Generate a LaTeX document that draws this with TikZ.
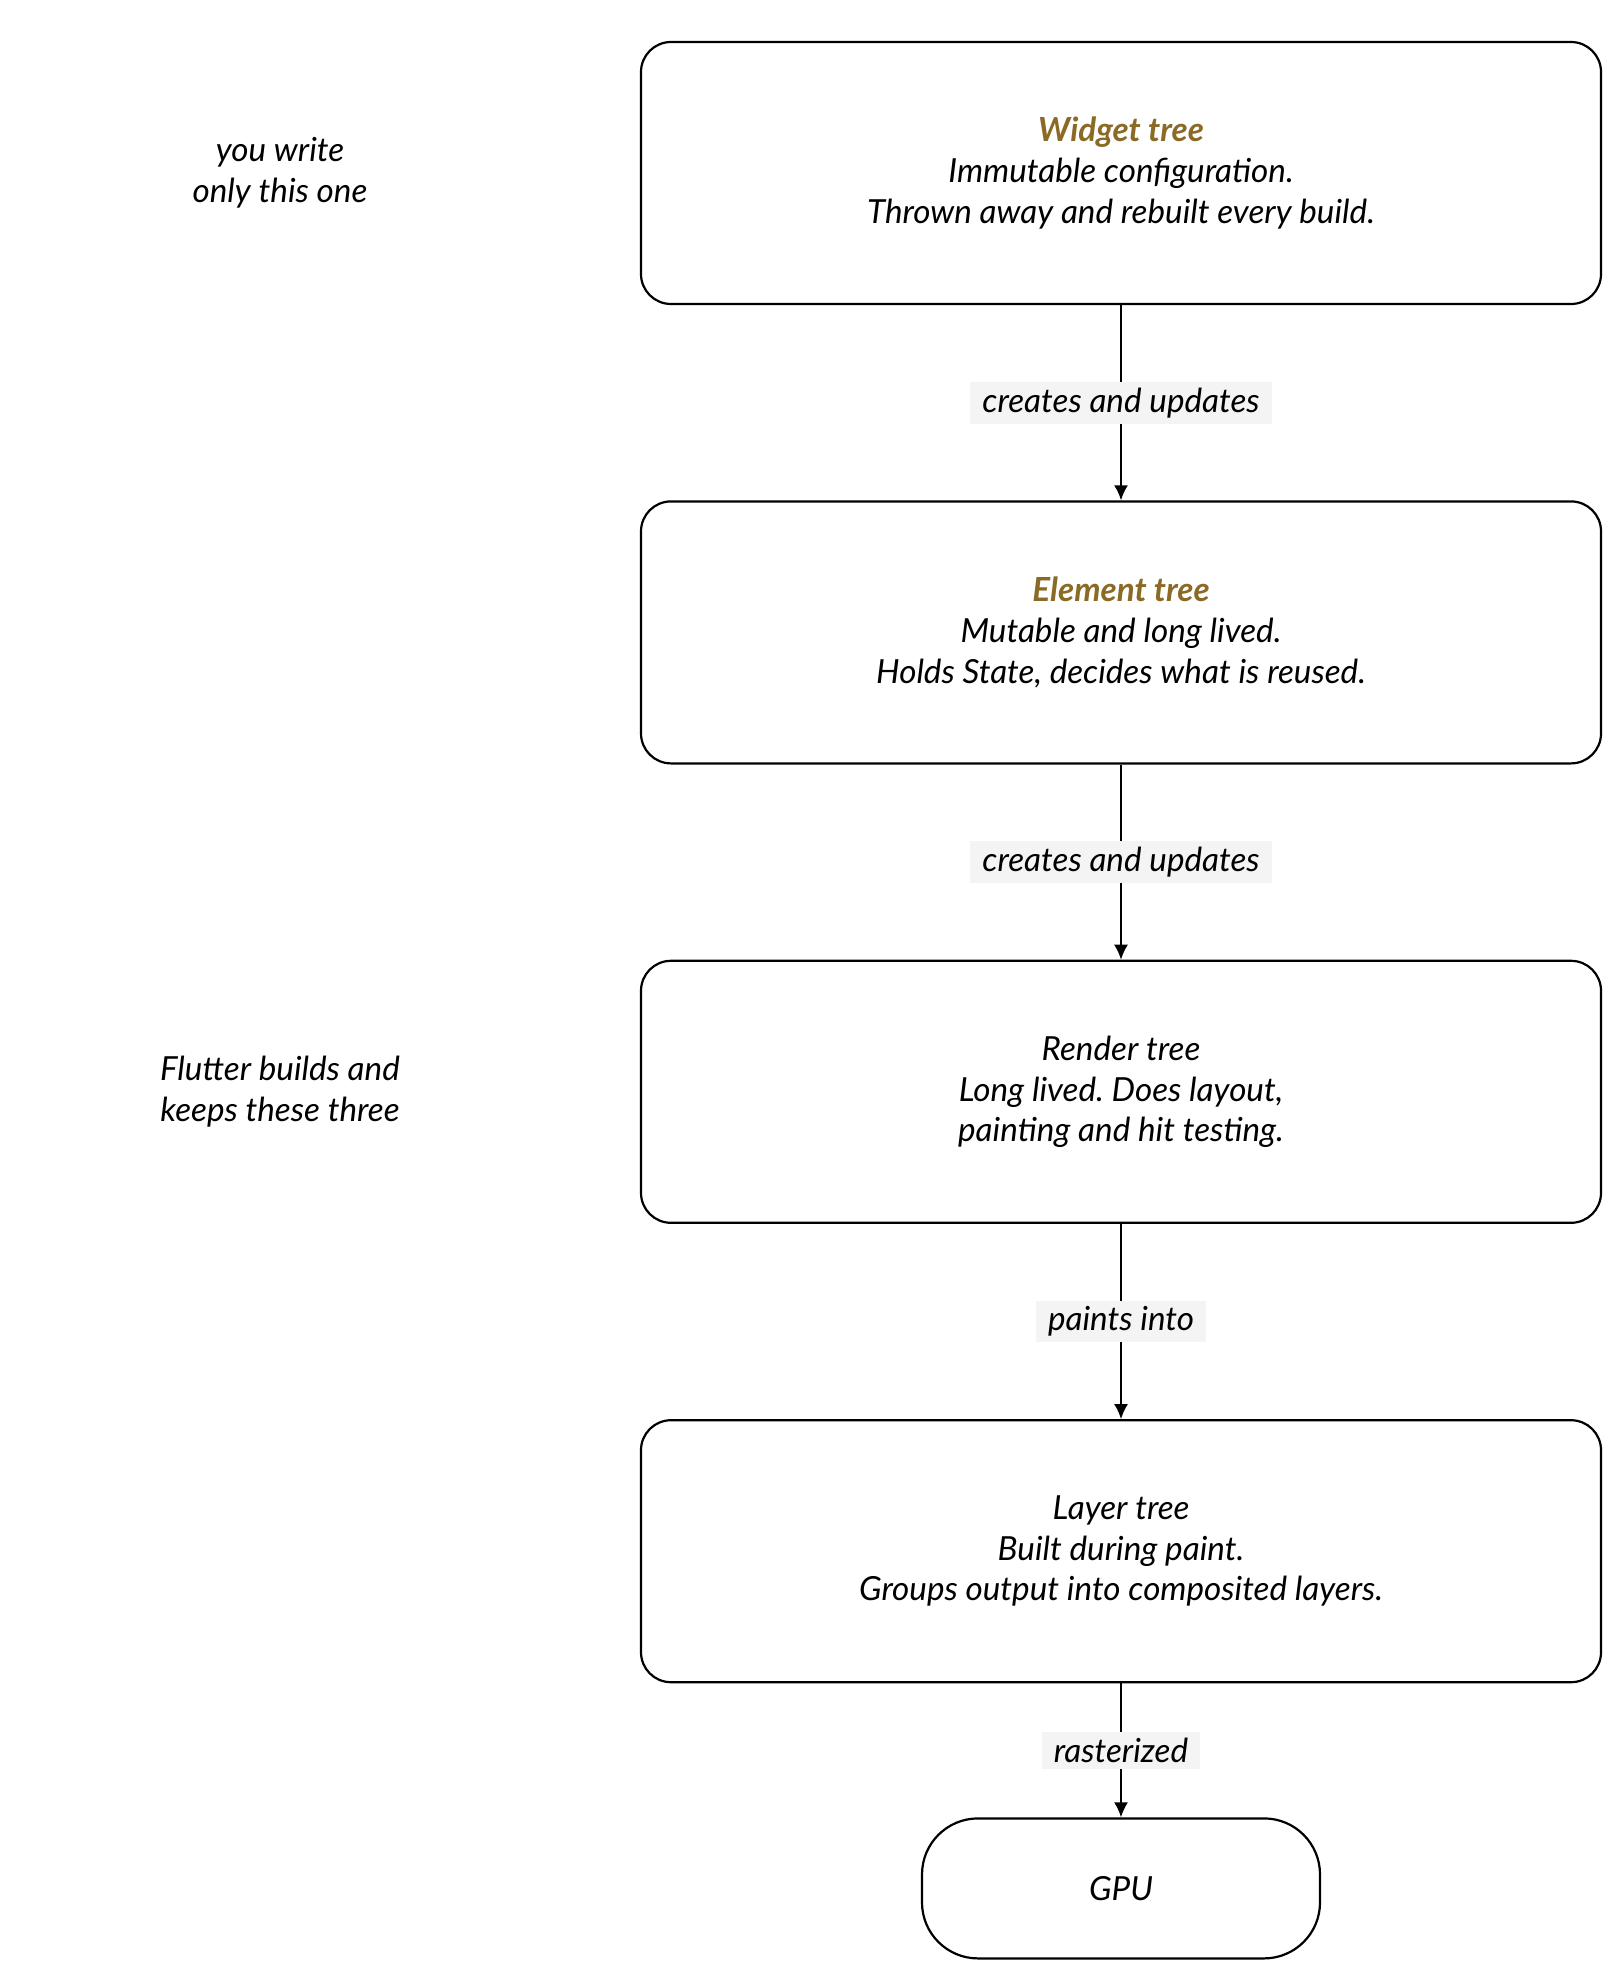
\documentclass[tikz,border=0pt]{standalone}
\usepackage{fontspec}
\setmainfont{Lato}
\usepackage{tikz}
\usetikzlibrary{positioning}
\usetikzlibrary{arrows.meta}
\frenchspacing

\definecolor{titlebrown}{HTML}{8A6A24}
\definecolor{labelgray}{HTML}{F4F4F4}

\begin{document}
\begin{tikzpicture}[x=0.5pt, y=-0.5pt, node distance=97.6pt, font=\itshape\fontsize{16.6}{20.3}\selectfont]
	\tikzstyle{tree}=[draw, line width=1.1pt, rounded corners=15pt, minimum width=480pt, minimum height=131pt, align=center]
	\tikzstyle{edgelabel}=[fill=labelgray, inner xsep=6pt, inner ysep=3pt]
	\tikzstyle{flow}=[line width=0.9pt, -{Latex[length=7.5pt, width=7pt]}]
	\useasboundingbox (0,0) rectangle (1623,1985);

	\node[tree] (widget) at (1121,173) {{\bfseries\color{titlebrown}Widget tree}\\Immutable configuration.\\Thrown away and rebuilt every build.};
	\node[tree, below=of widget] (element) {{\bfseries\color{titlebrown}Element tree}\\Mutable and long lived.\\Holds State, decides what is reused.};
	\node[tree, below=of element] (render) {Render tree\\Long lived. Does layout,\\painting and hit testing.};
	\node[tree, below=of render] (layer) {Layer tree\\Built during paint.\\Groups output into composited layers.};
	\node[tree, below=67pt of layer, minimum width=199pt, minimum height=70pt, rounded corners=28pt] (gpu) {GPU};

	% notes on the left
	\coordinate (notes) at (280,0);
	\node[align=center] (writeLabel) at (widget -| notes) {you write\\only this one};
	\node[align=center] (keepLabel) at (render -| notes) {Flutter builds and\\keeps these three};

	\draw[flow] (widget) -- node[edgelabel] {creates and updates} (element);
	\draw[flow] (element) -- node[edgelabel] {creates and updates} (render);
	\draw[flow] (render) -- node[edgelabel] {paints into} (layer);
	\draw[flow] (layer) -- node[edgelabel] {rasterized} (gpu);
\end{tikzpicture}
\end{document}
